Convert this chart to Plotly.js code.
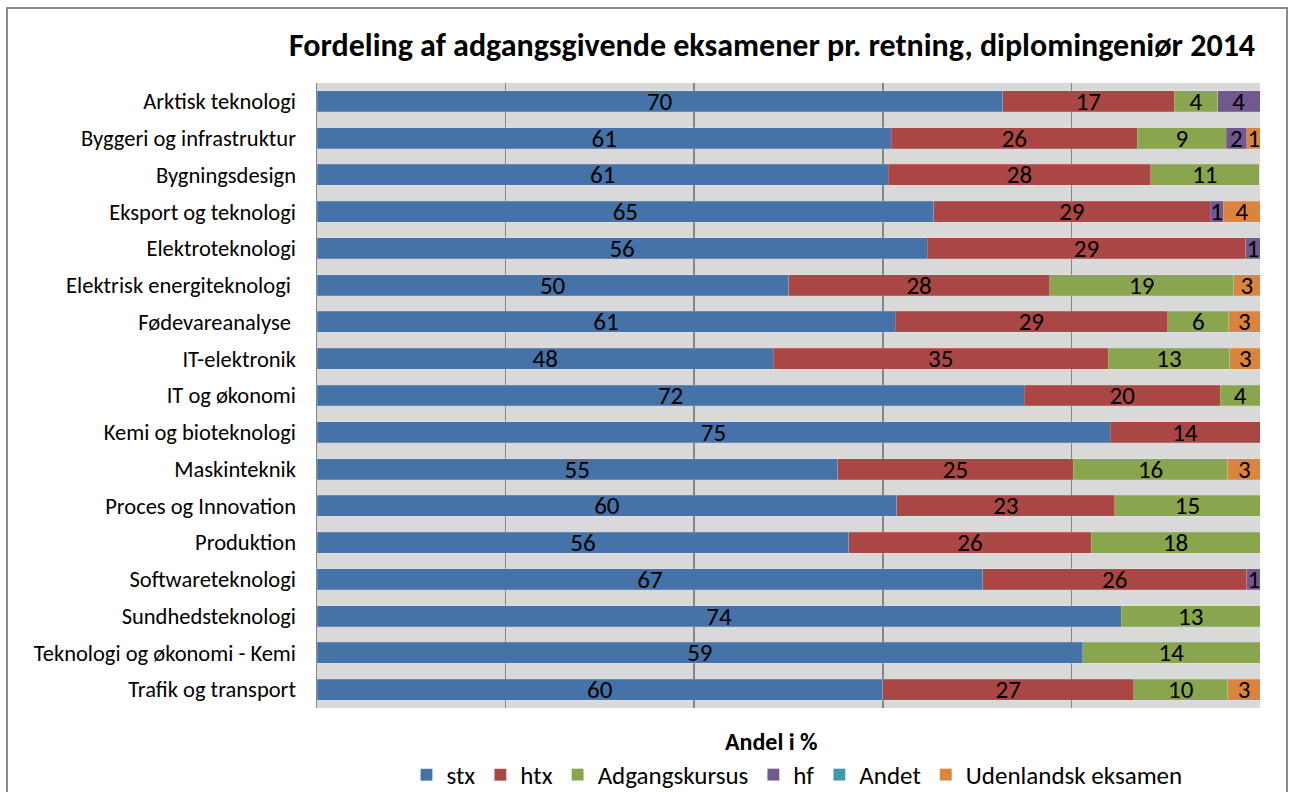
<!DOCTYPE html>
<html>
<head>
<meta charset="utf-8">
<script src="https://cdn.plot.ly/plotly-3.0.1.min.js"></script>
<style>
  html, body { margin: 0; padding: 0; background: #fff; }
  #chart { width: 1290px; height: 792px; }
  #frame { position: absolute; left: 6px; top: 7px; width: 1282px; height: 800px;
           border: 2px solid #8a8a8a; box-sizing: border-box; pointer-events: none; }
</style>
</head>
<body>
<div id="chart"></div>
<div id="frame"></div>
<script>
const categories = [
  "Arktisk teknologi", "Byggeri og infrastruktur", "Bygningsdesign", "Eksport og teknologi",
  "Elektroteknologi", "Elektrisk energiteknologi ", "Fødevareanalyse ", "IT-elektronik",
  "IT og økonomi", "Kemi og bioteknologi", "Maskinteknik", "Proces og Innovation",
  "Produktion", "Softwareteknologi", "Sundhedsteknologi", "Teknologi og økonomi - Kemi",
  "Trafik og transport"
];

// Segment shares (%)
const stx   = [72.7, 60.9, 60.6, 65.4, 64.7, 50.0, 61.3, 48.4, 75.0, 84.1, 55.2, 61.5, 56.4, 70.6, 85.3, 81.2, 60.0];
const htx   = [18.2, 26.1, 27.8, 29.3, 33.8, 27.7, 28.9, 35.5, 20.8, 15.9, 25.0, 23.1, 25.7, 28.0, null, null, 26.6];
const adg   = [4.6, 9.4, 11.5, null, null, 19.5, 6.5, 12.9, 4.2, null, 16.4, 15.4, 17.9, null, 14.7, 18.8, 10.0];
const hf    = [4.5, 2.2, null, 1.4, 1.5, null, null, null, null, null, null, null, null, 1.5, null, null, null];
const andet = [null, null, null, null, null, null, null, null, null, null, null, null, null, null, null, null, null];
const udl   = [null, 1.5, null, 4.0, null, 2.8, 3.3, 3.3, null, null, 3.5, null, null, null, null, null, 3.4];

// Data labels as printed on the bars
const stxLbl   = [70, 61, 61, 65, 56, 50, 61, 48, 72, 75, 55, 60, 56, 67, 74, 59, 60];
const htxLbl   = [17, 26, 28, 29, 29, 28, 29, 35, 20, 14, 25, 23, 26, 26, null, null, 27];
const adgLbl   = [4, 9, 11, null, null, 19, 6, 13, 4, null, 16, 15, 18, null, 13, 14, 10];
const hfLbl    = [4, 2, null, 1, 1, null, null, null, null, null, null, null, null, 1, null, null, null];
const andetLbl = [null, null, null, null, null, null, null, null, null, null, null, null, null, null, null, null, null];
const udlLbl   = [null, 1, null, 4, null, 3, 3, 3, null, null, 3, null, null, null, null, null, 3];

const seriesNames = ["stx", "htx", "Adgangskursus", "hf", "Andet", "Udenlandsk eksamen"];
const seriesColors = ["#4572A7", "#AA4643", "#89A54E", "#71588F", "#4198AF", "#DB843D"];
const seriesValues = [stx, htx, adg, hf, andet, udl];
const seriesLabels = [stxLbl, htxLbl, adgLbl, hfLbl, andetLbl, udlLbl];

const FONT = 'Carlito, Calibri, Lato, "Open Sans", sans-serif';

const traces = seriesNames.map((name, i) => ({
  type: 'bar',
  orientation: 'h',
  name: name,
  y: categories,
  x: seriesValues[i],
  text: seriesLabels[i].map(v => v === null ? '' : String(v)),
  textposition: 'inside',
  insidetextanchor: 'middle',
  textangle: 0,
  constraintext: 'none',
  textfont: { family: FONT, size: 25, color: '#000000' },
  marker: { color: seriesColors[i], line: { color: 'rgba(255,255,255,0.35)', width: 0.5 } },
  hoverinfo: 'name+text'
}));

const layout = {
  width: 1290,
  height: 792,
  paper_bgcolor: '#ffffff',
  plot_bgcolor: '#D9D9D9',
  barmode: 'stack',
  bargap: 0.43,
  margin: { l: 317, r: 30, t: 83, b: 84, autoexpand: false },
  font: { family: FONT, color: '#000000' },
  uniformtext: { minsize: 25, mode: 'show' },
  title: {
    text: '<b>Fordeling af adgangsgivende eksamener pr. retning, diplomingeniør 2014</b>',
    font: { family: FONT, size: 32, color: '#000000' },
    x: 0.5985, xanchor: 'center', xref: 'container',
    y: 0.943, yanchor: 'middle', yref: 'container'
  },
  xaxis: {
    range: [0, 100],
    dtick: 20,
    showticklabels: false,
    showgrid: true,
    gridcolor: '#868686',
    gridwidth: 1.5,
    zeroline: false,
    showline: false,
    fixedrange: true
  },
  yaxis: {
    autorange: 'reversed',
    showline: true,
    linecolor: '#868686',
    linewidth: 1.5,
    ticks: '',
    ticklabelstandoff: 15,
    tickfont: { family: FONT, size: 22.5, color: '#000000' },
    showgrid: false,
    fixedrange: true
  },
  showlegend: true,
  legend: {
    orientation: 'h',
    x: 0.509, xanchor: 'center',
    y: -0.107, yanchor: 'middle',
    font: { family: FONT, size: 25, color: '#000000' },
    traceorder: 'normal',
    itemwidth: 30
  },
  annotations: [{
    text: '<b>Andel i %</b>',
    xref: 'paper', yref: 'paper',
    x: 0.4825, y: -0.053, xanchor: 'center', yanchor: 'middle',
    showarrow: false,
    font: { family: FONT, size: 24, color: '#000000' }
  }]
};

Plotly.newPlot('chart', traces, layout, { displayModeBar: false, staticPlot: true });
</script>
</body>
</html>
